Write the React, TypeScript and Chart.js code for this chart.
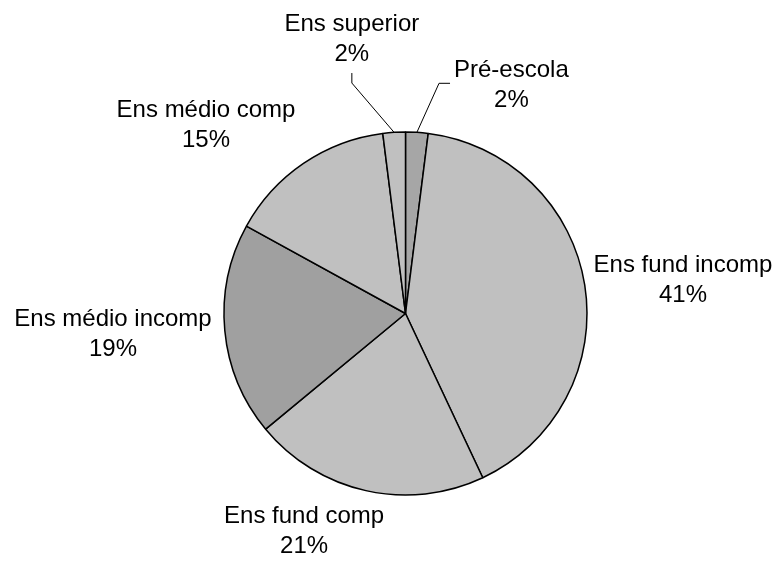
import React, { useEffect, useRef } from "react";
import { Chart, registerables } from "chart.js";

Chart.register(...registerables);

const categories = [
  "Pré-escola",
  "Ens fund incomp",
  "Ens fund comp",
  "Ens médio incomp",
  "Ens médio comp",
  "Ens superior",
];
const shares = [2, 41, 21, 19, 15, 2];
const sliceColors = ["#a6a6a6", "#c0c0c0", "#c0c0c0", "#a0a0a0", "#c0c0c0", "#c0c0c0"];

// label layout: angle shift (deg) from slice mid-angle, distance as multiple of radius, leader style
const labelLayout = [
  { shift: 21.1, dist: 1.396, leader: "side" },
  { shift: 1.8, dist: 1.541, leader: "" },
  { shift: 12.5, dist: 1.317, leader: "" },
  { shift: 1.7, dist: 1.615, leader: "" },
  { shift: -12.2, dist: 1.518, leader: "" },
  { shift: -7.4, dist: 1.549, leader: "bottom" },
];

const FONT = '24px "Liberation Sans", Arial, sans-serif';

const labelPlugin = {
  id: "pieLabels",
  afterDatasetsDraw(chart: any) {
    const ctx = chart.ctx;
    const meta = chart.getDatasetMeta(0);
    const total = shares.reduce((a, b) => a + b, 0);
    ctx.save();
    ctx.font = FONT;
    ctx.fillStyle = "#000";
    ctx.textAlign = "center";
    ctx.textBaseline = "alphabetic";
    meta.data.forEach((arc: any, i: number) => {
      const { x, y, startAngle, endAngle, outerRadius } = arc.getProps(
        ["x", "y", "startAngle", "endAngle", "outerRadius"],
        true
      );
      const mid = (startAngle + endAngle) / 2;
      const lay = labelLayout[i];
      const a = mid + (lay.shift * Math.PI) / 180;
      const r = outerRadius * lay.dist;
      const cx = x + Math.cos(a) * r;
      const cy = y + Math.sin(a) * r;
      const line1 = categories[i];
      const line2 = Math.round((shares[i] / total) * 100) + "%";
      const b1 = cy - 6.5;
      const b2 = cy + 23.5;
      ctx.fillText(line1, cx, b1);
      ctx.fillText(line2, cx, b2);
      if (lay.leader) {
        const w = Math.max(ctx.measureText(line1).width, ctx.measureText(line2).width);
        const px = x + Math.cos(mid) * outerRadius;
        const py = y + Math.sin(mid) * outerRadius;
        ctx.beginPath();
        ctx.strokeStyle = "#000";
        ctx.lineWidth = 1;
        if (lay.leader === "side") {
          const sx = cx - w / 2 - 4;
          ctx.moveTo(sx, cy);
          ctx.lineTo(sx - 11, cy);
          ctx.lineTo(px, py);
        } else {
          const sy = b2 + 12;
          ctx.moveTo(cx, sy);
          ctx.lineTo(cx, sy + 10);
          ctx.lineTo(px, py);
        }
        ctx.stroke();
      }
    });
    ctx.restore();
  },
};

export default function App() {
  const ref = useRef<HTMLCanvasElement | null>(null);
  useEffect(() => {
    if (!ref.current) return;
    const chart = new Chart(ref.current, {
      type: "pie",
      data: {
        labels: categories,
        datasets: [
          {
            data: shares,
            backgroundColor: sliceColors,
            borderColor: "#000",
            borderWidth: 1.5,
          },
        ],
      },
      options: {
        responsive: false,
        animation: false,
        devicePixelRatio: 1,
        layout: {
          padding: { left: 223.25, right: 193.25, top: 131.25, bottom: 67.25 },
        },
        plugins: {
          legend: { display: false },
          tooltip: { enabled: false },
        },
      },
      plugins: [labelPlugin],
    });
    return () => chart.destroy();
  }, []);
  return (
    <div style={{ position: "absolute", left: 0, top: 0, width: 781, height: 563, background: "#fff" }}>
      <canvas ref={ref} width={781} height={563} />
    </div>
  );
}
